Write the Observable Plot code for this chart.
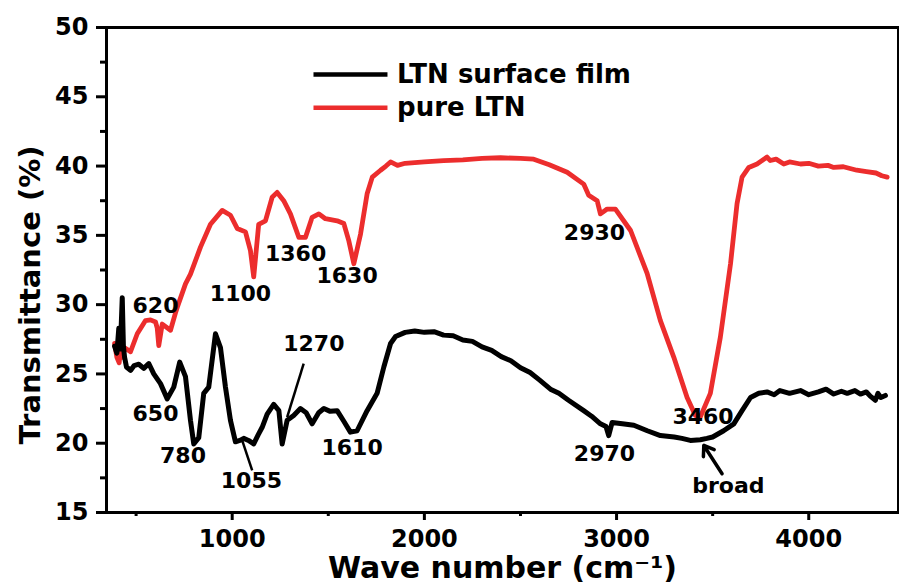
<!DOCTYPE html>
<html>
<head>
<meta charset="utf-8">
<script src="https://cdn.jsdelivr.net/npm/d3@7"></script>
<script src="https://cdn.jsdelivr.net/npm/@observablehq/plot@0.6"></script>
<style>
  html, body { margin: 0; padding: 0; background: #fff; }
  #chart svg { display: block; }
</style>
</head>
<body>
<div id="chart"></div>
<script>
// LTN surface film (black)
const filmWave = [388, 400, 410, 418, 428, 434, 440, 450, 471, 490, 514, 540, 566, 592, 627, 662, 696, 727, 757, 783, 800, 826, 852, 878, 913, 939, 965, 991, 1017, 1040, 1060, 1085, 1112, 1135, 1156, 1182, 1216, 1243, 1260, 1286, 1320, 1355, 1385, 1416, 1450, 1477, 1510, 1546, 1580, 1615, 1650, 1702, 1754, 1789, 1824, 1850, 1900, 1950, 2000, 2050, 2100, 2150, 2200, 2250, 2300, 2350, 2400, 2450, 2500, 2550, 2600, 2656, 2700, 2750, 2829, 2870, 2916, 2945, 2959, 2977, 3030, 3090, 3160, 3228, 3300, 3340, 3384, 3436, 3470, 3500, 3557, 3610, 3653, 3697, 3740, 3783, 3820, 3850, 3900, 3957, 4000, 4050, 4090, 4130, 4170, 4200, 4240, 4269, 4300, 4320, 4347, 4360, 4375, 4399];
const filmT    = [27.0, 26.5, 28.3, 26.8, 30.5, 27.0, 26.2, 25.5, 25.25, 25.6, 25.7, 25.4, 25.75, 25.0, 24.3, 23.2, 24.05, 25.85, 24.8, 21.65, 19.95, 20.4, 23.6, 24.05, 27.9, 26.9, 24.05, 21.65, 20.1, 20.2, 20.35, 20.2, 19.95, 20.6, 21.15, 22.1, 22.8, 22.35, 19.95, 21.65, 22.0, 22.5, 22.2, 21.4, 22.2, 22.5, 22.3, 22.35, 21.6, 20.8, 20.9, 22.35, 23.6, 25.5, 27.2, 27.7, 28.0, 28.1, 28.0, 28.05, 27.8, 27.75, 27.45, 27.35, 26.95, 26.7, 26.25, 25.95, 25.45, 25.1, 24.55, 23.9, 23.6, 23.1, 22.35, 21.95, 21.4, 21.2, 20.55, 21.5, 21.4, 21.3, 20.9, 20.55, 20.45, 20.35, 20.2, 20.25, 20.35, 20.45, 20.9, 21.4, 22.35, 23.3, 23.6, 23.7, 23.5, 23.8, 23.6, 23.8, 23.5, 23.7, 23.9, 23.55, 23.75, 23.6, 23.8, 23.55, 23.7, 23.4, 23.1, 23.6, 23.3, 23.45];

// pure LTN (red)
const pureWave = [388, 400, 412, 420, 430, 440, 471, 506, 549, 575, 601, 610, 618, 636, 679, 705, 714, 757, 783, 835, 887, 948, 991, 1026, 1069, 1095, 1112, 1138, 1173, 1208, 1234, 1268, 1303, 1347, 1381, 1416, 1451, 1485, 1546, 1581, 1607, 1633, 1668, 1702, 1729, 1772, 1800, 1824, 1860, 1900, 2000, 2100, 2200, 2300, 2396, 2500, 2569, 2650, 2743, 2829, 2855, 2899, 2916, 2951, 2994, 3073, 3159, 3228, 3298, 3367, 3410, 3436, 3488, 3540, 3593, 3627, 3653, 3688, 3731, 3783, 3800, 3830, 3870, 3900, 3957, 4000, 4050, 4100, 4130, 4180, 4250, 4300, 4350, 4380, 4408];
const pureT    = [27.2, 26.2, 25.8, 26.9, 26.2, 26.9, 26.6, 27.9, 28.85, 28.9, 28.75, 28.3, 27.05, 28.6, 28.15, 29.4, 29.8, 31.5, 32.2, 34.15, 35.8, 36.8, 36.45, 35.5, 35.25, 33.9, 32.0, 35.8, 36.05, 37.75, 38.1, 37.5, 36.55, 34.85, 34.85, 36.3, 36.55, 36.2, 36.05, 35.85, 34.6, 32.95, 35.1, 38.0, 39.2, 39.7, 40.0, 40.3, 40.05, 40.2, 40.3, 40.4, 40.45, 40.55, 40.6, 40.55, 40.5, 40.1, 39.55, 38.7, 37.9, 37.5, 36.55, 36.9, 36.9, 35.35, 32.25, 28.85, 26.2, 23.3, 22.0, 21.9, 23.6, 27.65, 32.95, 37.3, 39.2, 39.9, 40.15, 40.65, 40.4, 40.5, 40.15, 40.3, 40.15, 40.2, 40.0, 40.05, 39.9, 39.95, 39.7, 39.6, 39.5, 39.3, 39.2];

// peak labels
const labelText = ["620", "650", "780", "1055", "1100", "1360", "1630", "1270", "1610", "2930", "2970", "3460", "broad"];
const labelWave = [601, 601, 744, 1100, 1043, 1330, 1598, 1425, 1624, 2885, 2937, 3450, 3582];
const labelT    = [29.87, 22.08, 19.05, 17.3, 30.8, 33.67, 32.05, 27.13, 19.66, 35.17, 19.2, 21.88, 16.88];

// leader lines (1055, 1270) and arrow (broad)
const leaderWave1 = [1052, 1372];
const leaderT1    = [20.2, 25.74];
const leaderWave2 = [1104, 1286];
const leaderT2    = [18.04, 21.88];
const arrowFrom = {w: 3549, t: 17.8};
const arrowTo   = {w: 3454, t: 19.84};

// legend
const seriesNames  = ["LTN surface film", "pure LTN"];
const seriesColors = ["#000000", "#ec2d2d"];
const legendT      = [46.6, 44.2];
const legendLineW  = [1423, 1808];
const legendTextW  = 1858;

// ticks
const yTicks = [15, 20, 25, 30, 35, 40, 45, 50];
const yMinor = [17.5, 22.5, 27.5, 32.5, 37.5, 42.5, 47.5];
const xTicks = [1000, 2000, 3000, 4000];
const xMinor = [500, 1500, 2500, 3500];

const film = filmWave.map((w, i) => ({w, t: filmT[i]}));
const pure = pureWave.map((w, i) => ({w, t: pureT[i]}));
const labels = labelText.map((s, i) => ({s, w: labelWave[i], t: labelT[i]}));
const leaders = leaderWave1.map((w, i) => ({w1: w, t1: leaderT1[i], w2: leaderWave2[i], t2: leaderT2[i]}));
const legend = seriesNames.map((n, i) => ({n, c: seriesColors[i], t: legendT[i]}));

const chart = Plot.plot({
  width: 899,
  height: 588,
  marginLeft: 106,
  marginRight: 1,
  marginTop: 27,
  marginBottom: 76,
  x: {domain: [346, 4467]},
  y: {domain: [15, 50]},
  style: {fontFamily: "'DejaVu Sans', sans-serif", fontWeight: "bold", color: "#000", background: "#fff"},
  marks: [
    Plot.line(pure, {x: "w", y: "t", stroke: seriesColors[1], strokeWidth: 4.8, strokeLinejoin: "round"}),
    Plot.line(film, {x: "w", y: "t", stroke: seriesColors[0], strokeWidth: 5, strokeLinejoin: "round"}),
    Plot.text(labels, {x: "w", y: "t", text: "s", fontSize: 22, fontWeight: "bold", fill: "#000"}),
    Plot.link(leaders, {x1: "w1", y1: "t1", x2: "w2", y2: "t2", stroke: "#000", strokeWidth: 2.5}),
    Plot.arrow([{a: arrowFrom, b: arrowTo}], {x1: d => d.a.w, y1: d => d.a.t, x2: d => d.b.w, y2: d => d.b.t, stroke: "#000", strokeWidth: 3.5, headLength: 12, headAngle: 70, bend: false}),
    Plot.link(legend, {x1: () => legendLineW[0], x2: () => legendLineW[1], y1: "t", y2: "t", stroke: "c", strokeWidth: 4.5}),
    Plot.text(legend, {x: () => legendTextW, y: "t", text: "n", textAnchor: "start", fontSize: 26, fontWeight: "bold", fill: "#000"}),
    Plot.frame({stroke: "#000", strokeWidth: 3}),
    Plot.axisY({ticks: yTicks, tickSize: 10, tickPadding: 8, fontSize: 24, strokeWidth: 3, label: null}),
    Plot.axisY({ticks: yMinor, tickSize: 6, text: null, strokeWidth: 3, label: null}),
    Plot.axisX({ticks: xTicks, tickSize: 8, tickPadding: 9, fontSize: 24, strokeWidth: 3, label: null, tickFormat: d => String(d)}),
    Plot.axisX({ticks: xMinor, tickSize: 4, text: null, strokeWidth: 3, label: null}),
    Plot.text(["Wave number (cm⁻¹)"], {frameAnchor: "bottom", textAnchor: "middle", lineAnchor: "middle", dy: 56, fontSize: 30, fontWeight: "bold", fill: "#000"}),
    Plot.text(["Transmittance (%)"], {frameAnchor: "left", textAnchor: "middle", lineAnchor: "middle", rotate: -90, dx: -76, dy: 25, fontSize: 29, fontWeight: "bold", fill: "#000"})
  ]
});
document.getElementById("chart").appendChild(chart);
</script>
</body>
</html>
